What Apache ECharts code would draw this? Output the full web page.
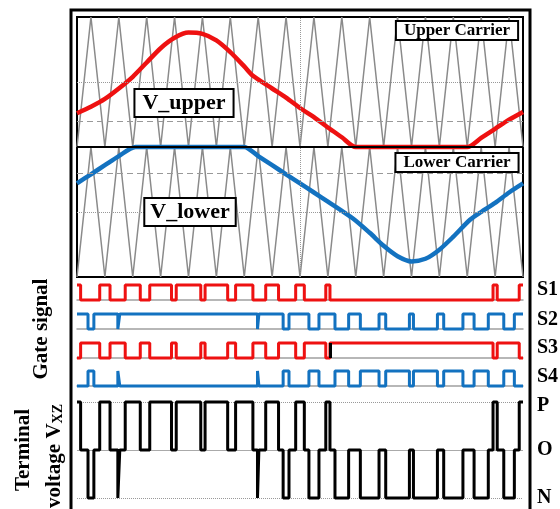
<!DOCTYPE html>
<html>
<head>
<meta charset="utf-8">
<script src="https://cdn.jsdelivr.net/npm/echarts@6/dist/echarts.min.js"></script>
<style>
  html, body { margin: 0; padding: 0; background: #fff; }
  #chart { width: 560px; height: 509px; }
</style>
</head>
<body>
<div id="chart"></div>
<script>
// time axis: one carrier period = 1
var carrierT = [0,0.5,1,1.5,2,2.5,3,3.5,4,4.5,5,5.5,6,6.5,7,7.5,8,8.5,9,9.5,10,10.5,11,11.5,12,12.5,13,13.5,14,14.5,15,15.5,16];
var upperCarrier = [0,1,0,1,0,1,0,1,0,1,0,1,0,1,0,1,0,1,0,1,0,1,0,1,0,1,0,1,0,1,0,1,0];
var lowerCarrier = [-1,0,-1,0,-1,0,-1,0,-1,0,-1,0,-1,0,-1,0,-1,0,-1,0,-1,0,-1,0,-1,0,-1,0,-1,0,-1,0,-1];

// reference waves
var vUpperT = [0,0.5,1,1.5,2,2.5,3,3.5,4,4.5,5,5.5,6,6.3,7,7.5,8,8.5,9,9.5,10,14,14.5,15,15.5,16];
var vUpper  = [0.26,0.31,0.37,0.45,0.54,0.65,0.76,0.84,0.88,0.87,0.82,0.73,0.62,0.55,0.45,0.38,0.30,0.23,0.15,0.075,0,0,0.07,0.14,0.21,0.27];
var vLowerT = [0,0.5,1,1.5,2.1,6,6.5,7,7.5,8,8.5,9,9.9,10.5,11,11.5,12,12.5,13,13.5,14.1,14.5,15,15.5,16];
var vLower  = [-0.28,-0.21,-0.14,-0.07,0,0,-0.07,-0.14,-0.21,-0.28,-0.35,-0.42,-0.55,-0.66,-0.76,-0.84,-0.88,-0.86,-0.79,-0.69,-0.56,-0.50,-0.43,-0.35,-0.28];

// gate signals: [switching time, level after it]
var s1 = [[0,1],[0.13,0],[0.815,1],[1.185,0],[1.73,1],[2.27,0],[2.61,1],[3.39,0],[3.56,1],[4.44,0],
          [4.595,1],[5.405,0],[5.69,1],[6.31,0],[6.77,1],[7.23,0],[7.845,1],[8.155,0],[8.925,1],[9.075,0],
          [14.925,1],[15.075,0],[15.865,1],[16,1]];
var s2 = [[0,1],[0.395,0],[0.605,1],[1.465,0],[1.535,1],[6.475,0],[6.525,1],[7.395,0],[7.605,1],[8.32,0],
          [8.68,1],[9.255,0],[9.745,1],[10.165,0],[10.835,1],[11.075,0],[11.925,1],[12.07,0],[12.93,1],
          [13.155,0],[13.845,1],[14.245,0],[14.755,1],[15.31,0],[15.69,1],[16,1]];

var rightLabels = ['S1', 'S2', 'S3', 'S4', 'P', 'O', 'N'];

// S3 / S4 are the complements, output level from S1/S2
var s3 = s1.map(function (p) { return [p[0], 1 - p[1]]; });
var s4 = s2.map(function (p) { return [p[0], 1 - p[1]]; });
function levelAt(sig, t) {
  var l = sig[0][1];
  sig.forEach(function (p) { if (p[0] <= t) l = p[1]; });
  return l;
}
var times = s1.concat(s2).map(function (p) { return p[0]; })
  .sort(function (a, b) { return a - b; })
  .filter(function (t, i, arr) { return i === 0 || t !== arr[i - 1]; });
var vxz = times.map(function (t) {
  return [t, levelAt(s1, t) ? 1 : (levelAt(s2, t) ? 0 : -1)];
});

function zip(xs, ys) { return xs.map(function (x, i) { return [x, ys[i]]; }); }

var RED = '#ee1111', BLUE = '#1372c0', GRAY = '#8a8a8a';
var SERIF = '"Liberation Serif", "Times New Roman", serif';
var L = 77, W = 446;

var gateTops = [285, 314, 343, 371];
var grids = [{ left: L, top: 17, width: W, height: 260, show: true, borderColor: '#000', borderWidth: 2 }];
gateTops.forEach(function (t) { grids.push({ left: L, top: t, width: W, height: 15 }); });
grids.push({ left: L, top: 402, width: W, height: 96 });

var xAxes = grids.map(function (g, i) {
  var gate = i >= 1 && i <= 4;
  return {
    type: 'value', gridIndex: i, min: 0, max: 16,
    axisLine: { show: gate, onZero: false, lineStyle: { color: '#a0a0a0', width: 1.5 } },
    axisTick: { show: false }, axisLabel: { show: false }, splitLine: { show: false }
  };
});
var yAxes = grids.map(function (g, i) {
  var mn = (i === 0 || i === 5) ? -1 : 0;
  return {
    type: 'value', gridIndex: i, min: mn, max: 1,
    axisLine: { show: false }, axisTick: { show: false }, axisLabel: { show: false }, splitLine: { show: false }
  };
});

function hLine(v, type, color, width) {
  return { yAxis: v, lineStyle: { type: type, color: color, width: width } };
}

var series = [
  {
    type: 'line', xAxisIndex: 0, yAxisIndex: 0, data: [], z: 1,
    markLine: {
      silent: true, symbol: 'none', animation: false, label: { show: false },
      data: [
        hLine(0.5, 'dotted', '#999', 1), hLine(-0.5, 'dotted', '#999', 1),
        hLine(0.2, [6, 4], '#999', 1.2), hLine(-0.2, [6, 4], '#999', 1.2),
        { xAxis: 8, lineStyle: { type: 'dotted', color: '#999', width: 1 } }
      ]
    }
  },
  { type: 'line', xAxisIndex: 0, yAxisIndex: 0, data: zip(carrierT, upperCarrier), symbol: 'none', clip: false,
    lineStyle: { color: GRAY, width: 1.5 }, z: 2 },
  { type: 'line', xAxisIndex: 0, yAxisIndex: 0, data: zip(carrierT, lowerCarrier), symbol: 'none', clip: false,
    lineStyle: { color: GRAY, width: 1.5 }, z: 2 },
  { type: 'line', xAxisIndex: 0, yAxisIndex: 0, data: zip(vUpperT, vUpper), symbol: 'none', smooth: 0.25, clip: false,
    lineStyle: { color: RED, width: 4.5 }, z: 3 },
  { type: 'line', xAxisIndex: 0, yAxisIndex: 0, data: zip(vLowerT, vLower), symbol: 'none', smooth: 0.25, clip: false,
    lineStyle: { color: BLUE, width: 4.5 }, z: 3 },
  {
    type: 'line', xAxisIndex: 0, yAxisIndex: 0, data: [], z: 4,
    markLine: { silent: true, symbol: 'none', animation: false, label: { show: false },
      data: [hLine(0, 'solid', '#000', 2)] }
  }
];

[s1, s2, s3, s4].forEach(function (sig, i) {
  var s = {
    type: 'line', xAxisIndex: i + 1, yAxisIndex: i + 1, data: sig, step: 'end', symbol: 'none', clip: false,
    lineStyle: { color: i % 2 === 0 ? RED : BLUE, width: 3 }, z: 3
  };
  if (i === 2) {
    s.markLine = { silent: true, symbol: 'none', animation: false, label: { show: false },
      data: [{ xAxis: s1[19][0], lineStyle: { type: 'solid', color: '#000', width: 3 } }] };
  }
  series.push(s);
});

series.push({
  type: 'line', xAxisIndex: 5, yAxisIndex: 5, data: vxz, step: 'end', symbol: 'none', clip: false,
  lineStyle: { color: '#000', width: 3 }, z: 3,
  markLine: { silent: true, symbol: 'none', animation: false, label: { show: false }, z: 1,
    data: [hLine(1, 'dotted', '#999', 1), hLine(0, 'solid', '#aaa', 1.2), hLine(-1, 'dotted', '#999', 1)] }
});

function boxLabel(text, cx, cy, size, pad) {
  return {
    type: 'text', x: cx, y: cy, z: 10,
    style: {
      text: text, font: 'bold ' + size + 'px ' + SERIF, fill: '#000',
      align: 'center', verticalAlign: 'middle',
      backgroundColor: '#fff', borderColor: '#000', borderWidth: 2, padding: pad
    }
  };
}

var rightY = [290, 320, 348, 377, 406, 450, 498];
var graphics = [
  { type: 'polyline', shape: { points: [[71, 509], [71, 10], [530, 10], [530, 509]] },
    style: { stroke: '#000', lineWidth: 3, fill: null }, z: 10 },
  boxLabel('V_upper', 184, 103, 22, [3, 7, 1, 7]),
  boxLabel('V_lower', 190, 212, 22, [3, 5, 1, 5]),
  boxLabel('Upper Carrier', 457, 30.5, 17, [0, 7, 0, 7]),
  boxLabel('Lower Carrier', 457, 162.5, 17, [0, 7, 0, 7]),
  { type: 'text', x: 42, y: 329, rotation: Math.PI / 2, z: 10,
    style: { text: 'Gate signal', font: 'bold 21px ' + SERIF, fill: '#000', align: 'center', verticalAlign: 'middle' } },
  { type: 'text', x: 24, y: 450, rotation: Math.PI / 2, z: 10,
    style: { text: 'Terminal', font: 'bold 21px ' + SERIF, fill: '#000', align: 'center', verticalAlign: 'middle' } },
  { type: 'text', x: 53, y: 456, rotation: Math.PI / 2, z: 10,
    style: {
      text: '{a|voltage V}{b|XZ}', align: 'center', verticalAlign: 'middle',
      rich: {
        a: { font: 'bold 21px ' + SERIF, fill: '#000', lineHeight: 24, verticalAlign: 'bottom' },
        b: { font: 'bold 14px ' + SERIF, fill: '#000', lineHeight: 24, verticalAlign: 'bottom', padding: [6, 0, 0, 0] }
      }
    } }
];
rightLabels.forEach(function (t, i) {
  graphics.push({ type: 'text', x: 537, y: rightY[i], z: 10,
    style: { text: t, font: 'bold 20px ' + SERIF, fill: '#000', align: 'left', verticalAlign: 'middle' } });
});

var myChart = echarts.init(document.getElementById('chart'));
myChart.setOption({
  animation: false,
  backgroundColor: '#fff',
  grid: grids,
  xAxis: xAxes,
  yAxis: yAxes,
  series: series,
  graphic: graphics
});
window.addEventListener('resize', function () {
  myChart.resize();
});
</script>
</body>
</html>
